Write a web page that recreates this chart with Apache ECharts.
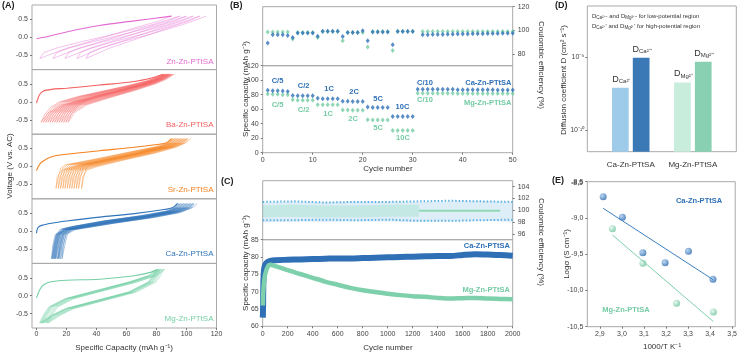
<!DOCTYPE html>
<html>
<head>
<meta charset="utf-8">
<script src="https://cdn.jsdelivr.net/npm/echarts@6/dist/echarts.min.js"></script>
<style>
  html, body { margin: 0; padding: 0; background: #fff; }
  #chart { width: 740px; height: 355px; }
</style>
</head>
<body>
<div id="chart"></div>
<script>
// ---------- (A) charge/discharge curves ----------
// first charge curve [capacity, voltage]
const znFirst = [[0,-0.04],[5,0.0],[20,0.15],[42,0.33],[64,0.45],[90,0.59]];
const baFirst = [[0,-0.03],[2,0.2],[4.4,0.3],[10,0.35],[20,0.38],[42,0.47],[64,0.56],[78,0.68],[84,0.77]];
const srFirst = [[0,-0.11],[1,-0.02],[3.3,0.12],[10,0.27],[20,0.34],[42,0.44],[64,0.53],[85,0.64],[88,0.7],[90,0.78]];
const caFirst = [[0,-0.06],[0.3,0.02],[1,0.1],[3.3,0.16],[10,0.22],[20,0.28],[42,0.39],[64,0.48],[85,0.6],[91,0.66],[94,0.77]];
const mgFirst = [[0,-0.06],[2,0.15],[4.4,0.29],[8.9,0.38],[20,0.43],[42,0.46],[64,0.55],[76,0.65],[80,0.72]];
// curve shapes [fraction between low and high capacity end, voltage]
const znChg = [[0,-0.59],[0.03,-0.42],[0.12,-0.3],[0.3,-0.12],[0.55,0.1],[0.8,0.35],[1,0.59]];
const znDis = [[0,-0.59],[0.2,-0.31],[0.45,-0.04],[0.7,0.24],[0.9,0.45],[1,0.59]];
const baChg = [[0,-0.57],[0.03,-0.35],[0.08,-0.15],[0.15,0.0],[0.3,0.15],[0.5,0.3],[0.7,0.45],[0.85,0.58],[0.95,0.7],[1,0.77]];
const baDis = [[0,-0.57],[0.06,-0.3],[0.18,-0.08],[0.4,0.12],[0.65,0.33],[0.85,0.52],[0.95,0.65],[1,0.77]];
const srChg = [[0,-0.61],[0.02,-0.3],[0.04,-0.05],[0.08,0.05],[0.2,0.12],[0.4,0.25],[0.65,0.42],[0.85,0.55],[0.95,0.66],[1,0.78]];
const srDis = [[0,-0.61],[0.01,-0.3],[0.05,-0.1],[0.15,0.0],[0.4,0.18],[0.7,0.38],[0.9,0.55],[0.97,0.65],[1,0.78]];
const caChg = [[0,-0.77],[0.02,-0.4],[0.04,-0.08],[0.07,0.05],[0.15,0.12],[0.4,0.28],[0.7,0.43],[0.9,0.56],[0.97,0.66],[1,0.77]];
const caDis = [[0,-0.77],[0.01,-0.4],[0.03,-0.1],[0.1,0.04],[0.4,0.22],[0.7,0.38],[0.9,0.52],[0.98,0.65],[1,0.77]];
const mgChg = [[0,-0.76],[0.03,-0.55],[0.08,-0.31],[0.22,-0.08],[0.49,0.15],[0.76,0.38],[0.93,0.56],[1,0.74]];
const mgDis = [[0,-0.76],[0.1,-0.55],[0.22,-0.36],[0.49,-0.13],[0.76,0.1],[0.93,0.38],[0.97,0.55],[1,0.74]];
// low / high capacity ends of each later cycle
const znLow = [2.2, 11, 19, 27, 33];
const znHigh = [95.6, 100, 104.4, 108.9, 113.3];
const baLow = [3, 4.5, 6, 7.5, 9, 10.5, 12, 13.5, 15, 16.5, 18, 19.5, 21];
const baHigh = [85, 85.5, 86, 86.5, 87, 87.5, 88, 88.5, 89, 89.5, 90, 91, 92];
const srLow = [13, 14.5, 16, 17.5, 19, 20.5, 22, 23.5, 25, 26.5, 28, 30];
const srHigh = [91, 92, 93, 94, 95, 96, 97, 98, 99, 100, 101, 103];
const caLow = [10, 10.5, 11, 11.5, 12, 12.5, 13, 14, 14.5, 15, 16, 17];
const caHigh = [95, 96, 97, 98, 99, 100, 101, 102, 103, 104, 105, 107];
const mgLow = [2, 2.5, 3, 3.5, 4, 4.5, 5.5, 6.5, 7, 8];
const mgHigh = [80, 80.5, 81, 81.5, 82, 82.5, 83, 84, 85, 85.6];
const aNames = ['Zn-Zn-PTtSA', 'Ba-Zn-PTtSA', 'Sr-Zn-PTtSA', 'Ca-Zn-PTtSA', 'Mg-Zn-PTtSA'];
const aTicksX = [0, 20, 40, 60, 80, 100, 120];
const aTicksY = [-0.5, 0, 0.5];

// ---------- (B) rate performance ----------
const bCaCap = [86,85.5,85.5,85,84.5, 79,78.5,78.5,78.5,78.5, 75,74.5,74.5,74.5,74.5, 71,71,70.5,70.5,70.5,
  63,62.5,62.5,62.5,62.5, 50,50,50,50,50,
  87.5,87.5,87.5,87.5,87.5,87.5,87.5,87.5,87,87,87,87,87,87,87,87,86.5,86.5,86.5,86.5];
const bMgCap = [81,80.5,80.5,80,80, 73,72.5,72.5,72.5,72.5, 66,66,66,66,66, 59,59,58.5,58.5,58.5,
  45.5,45,45,45,45, 30.5,30.5,30.5,30.5,30.5,
  82,82,82,82,82,82,82,82,81.5,81.5,81.5,81.5,81.5,81.5,81.5,81.5,81.5,81.5,81.5,81.5];
const bCaCE = [89.2,96.3,96.3,96.3,95.5, 93.8,97.8,97.8,97.8,97.8, 95,99.2,99.2,99.2,99.2, 94.7,98.2,98.2,98.2,99.7,
  91.1,98.5,98.5,98.5,98.5, 87.8,99,99,99,99,
  null,96.3,96.3,96.4,96.5,96.5,96.6,96.7,96.8,96.8,96.9,97,97,97.1,97.2,97.2,97.3,97.4,97.4,97.5];
const bMgCE = [98.6,98.6,98.6,98.6,98.6, 92.7,98.2,98.2,98.2,98.2, 93.8,98.9,98.9,98.9,98.9, 91.1,98.2,98.2,98.2,98.2,
  85.8,98.9,98.9,98.9,98.9, 82.8,99.2,99.2,99.2,99.2,
  null,99,99,99,99,99,99,99,99,99,99,99,99,99,99,99,99,99,99,99];
const bRates = ['C/5', 'C/2', '1C', '2C', '5C', '10C', 'C/10'];

// ---------- (C) long cycling ----------
const cCycles = [1,3,5,10,20,40,60,100,200,300,400,500,600,700,800,900,1000,1100,1200,1300,1400,1500,1600,1700,1800,1900,2000];
const cCaCap = [62.5,66,72,76,77.8,78.6,78.9,79.1,79.2,79.3,79.4,79.5,79.6,79.6,79.7,79.8,79.9,80.0,80.1,80.2,80.3,80.3,80.6,80.8,80.7,80.6,80.4];
const cMgCap = [66,68,70,72.5,75,77.2,77.8,77.4,76.2,75.1,74.0,72.9,72.0,71.1,70.4,69.9,69.4,69.0,68.7,68.5,68.2,68.0,68.1,68.2,68.0,67.9,67.8];
const cCeCycles = [0,250,500,750,1000,1250,1500,1750,2000];
const cCaCE = [99.6,99.8,99.7,99.8,99.8,99.7,99.8,99.9,99.7];
const cCaCEHi = [101.4,101.5,101.3,101.4,101.4,101.5,101.6,101.5,101.4];
const cCaCELo = [98.3,98.3,98.4,98.3,98.4,98.2,98.2,98.3,98.4];
const cMgCE = [99.8,99.9,99.8,99.8,99.9,99.9];
const cMgCELine = [[1250,99.9],[1900,99.9]];

// ---------- (D) diffusion coefficients ----------
const dGroups = ['Ca-Zn-PTtSA', 'Mg-Zn-PTtSA'];
const dLow = [3.8e-10, 4.5e-10];
const dHigh = [9.9e-10, 8.7e-10];

// ---------- (E) Arrhenius ----------
const eCaX = [2.915, 3.002, 3.095, 3.196, 3.302, 3.413];
const eCaY = [-8.707, -8.99, -9.48, -9.617, -9.46, -9.846];
const eMgX = [2.957, 3.095, 3.248, 3.415];
const eMgY = [-9.148, -9.626, -10.177, -10.297];
const eCaFit = [[2.915, -8.867], [3.413, -9.85]];
const eMgFit = [[2.957, -9.235], [3.415, -10.43]];
const eTicksX = [2.9, 3.0, 3.1, 3.2, 3.3, 3.4, 3.5];
const eTicksY = [-10.5, -10, -9.5, -9, -8.5];

// ---------- styling ----------
const FONT = 'Liberation Sans, Arial, sans-serif';
const BLUE = '#2f70b6';
const GREEN = '#74cca4';
const aColors = ['#e36ad2', '#f45f5f', '#f5821f', '#2f73ba', '#74cfa6'];
const BORDER = '#a9a9a9';
const tickLab = { fontFamily: FONT, fontSize: 7, color: '#444', showMinLabel: true, showMaxLabel: true };
const noLine = { show: false, onZero: false };

const chart = echarts.init(document.getElementById('chart'));

function loopData(first, chg, dis, lows, highs) {
  const out = [first[first.length - 1]];
  let prev = first[first.length - 1][0];
  for (let k = 0; k < lows.length; k++) {
    const lo = lows[k], hi = highs[k];
    for (let i = dis.length - 1; i >= 0; i--) out.push([lo + dis[i][0] * (prev - lo), dis[i][1]]);
    for (let i = 0; i < chg.length; i++) out.push([lo + chg[i][0] * (hi - lo), chg[i][1]]);
    prev = hi;
  }
  return out;
}

const aSets = [
  [znFirst, znChg, znDis, znLow, znHigh],
  [baFirst, baChg, baDis, baLow, baHigh],
  [srFirst, srChg, srDis, srLow, srHigh],
  [caFirst, caChg, caDis, caLow, caHigh],
  [mgFirst, mgChg, mgDis, mgLow, mgHigh],
];

const grids = [], xAxes = [], yAxes = [], series = [];
const aTop = 5, aH = 64.6;

aSets.forEach((s, i) => {
  grids.push({ left: 32, top: aTop + i * aH, width: 184.5, height: aH, show: true, borderColor: BORDER, borderWidth: 1 });
  const last = i === 4;
  xAxes.push({
    gridIndex: i, type: 'value', min: -3, max: 120,
    axisLine: noLine, splitLine: { show: false },
    axisTick: { show: last, length: 2, inside: false, customValues: aTicksX, lineStyle: { color: '#777' } },
    axisLabel: Object.assign({ show: last, margin: 3, customValues: aTicksX }, tickLab),
  });
  yAxes.push({
    gridIndex: i, type: 'value', min: -0.9, max: 0.9,
    axisLine: noLine, splitLine: { show: false },
    axisTick: { show: true, length: 2, customValues: aTicksY, lineStyle: { color: '#777' } },
    axisLabel: Object.assign({ margin: 4, customValues: aTicksY, formatter: v => v.toFixed(1) }, tickLab),
  });
  series.push({
    type: 'line', xAxisIndex: i, yAxisIndex: i, data: loopData(s[0], s[1], s[2], s[3], s[4]),
    showSymbol: false, silent: true, lineStyle: { width: 0.8, color: aColors[i], opacity: 0.5 },
  });
  series.push({
    type: 'line', xAxisIndex: i, yAxisIndex: i, data: s[0],
    showSymbol: false, smooth: 0.3, silent: true, lineStyle: { width: 1.1, color: aColors[i] },
  });
});

// B: grids 5 (CE) and 6 (capacity)
grids.push({ left: 262.7, top: 6.7, width: 250, height: 59, show: true, borderColor: BORDER, borderWidth: 1 });
grids.push({ left: 262.7, top: 65.7, width: 250, height: 87, show: true, borderColor: BORDER, borderWidth: 1 });
// C: grids 7 (CE) and 8 (capacity)
grids.push({ left: 262.7, top: 180.7, width: 250, height: 59, show: true, borderColor: BORDER, borderWidth: 1 });
grids.push({ left: 262.7, top: 239.7, width: 250, height: 86.6, show: true, borderColor: BORDER, borderWidth: 1 });
// D: grid 9, E: grid 10
grids.push({ left: 587.3, top: 6, width: 149, height: 145.7, show: true, borderColor: BORDER, borderWidth: 1 });
grids.push({ left: 587.3, top: 181.7, width: 149, height: 145, show: true, borderColor: BORDER, borderWidth: 1 });

const plainX = (gi, min, max, show, interval) => ({
  gridIndex: gi, type: 'value', min, max, interval,
  axisLine: noLine, splitLine: { show: false },
  axisTick: { show, length: 2, lineStyle: { color: '#777' } },
  axisLabel: Object.assign({ show, margin: 4, formatter: v => String(v) }, tickLab),
});
xAxes.push(plainX(5, 0, 50, false, 10));
xAxes.push(plainX(6, 0, 50, true, 10));
xAxes.push(plainX(7, 0, 2000, false, 200));
xAxes.push(plainX(8, 0, 2000, true, 200));

yAxes.push({
  gridIndex: 5, type: 'value', position: 'right', min: 70, max: 120,
  axisLine: noLine, splitLine: { show: false },
  axisTick: { show: true, length: 2, customValues: [80, 100, 120], lineStyle: { color: '#777' } },
  axisLabel: Object.assign({ margin: 5, customValues: [80, 100, 120] }, tickLab),
});
yAxes.push({
  gridIndex: 6, type: 'value', min: 0, max: 120, interval: 20,
  axisLine: noLine, splitLine: { show: false },
  axisTick: { show: true, length: 2, lineStyle: { color: '#777' } },
  axisLabel: Object.assign({ margin: 4 }, tickLab),
});
yAxes.push({
  gridIndex: 7, type: 'value', position: 'right', min: 95, max: 105,
  axisLine: noLine, splitLine: { show: false },
  axisTick: { show: true, length: 2, customValues: [96, 98, 100, 102, 104], lineStyle: { color: '#777' } },
  axisLabel: Object.assign({ margin: 5, customValues: [96, 98, 100, 102, 104] }, tickLab),
});
yAxes.push({
  gridIndex: 8, type: 'value', min: 60, max: 85, interval: 5,
  axisLine: noLine, splitLine: { show: false },
  axisTick: { show: true, length: 2, lineStyle: { color: '#777' } },
  axisLabel: Object.assign({ margin: 4 }, tickLab),
});

// D axes
xAxes.push({
  gridIndex: 9, type: 'value', min: 0.3, max: 2.7,
  axisLine: noLine, splitLine: { show: false }, axisTick: { show: false },
  axisLabel: { customValues: [1, 2], formatter: v => dGroups[Math.round(v) - 1], margin: 9, fontFamily: FONT, fontSize: 8, color: '#333' },
});
yAxes.push({
  gridIndex: 9, type: 'log', min: 5e-11, max: 5.1e-9,
  axisLine: noLine, splitLine: { show: false },
  axisTick: { show: true, length: 2, customValues: [1e-10, 1e-9], lineStyle: { color: '#777' } },
  minorTick: { show: false },
  axisLabel: Object.assign({ margin: 3, customValues: [1e-10, 1e-9], formatter: v => (v < 5e-10 ? '10⁻¹⁰' : '10⁻⁹') }, tickLab),
});
// E axes
xAxes.push({
  gridIndex: 10, type: 'value', min: 2.843, max: 3.514,
  axisLine: noLine, splitLine: { show: false },
  axisTick: { show: true, length: 2, customValues: eTicksX, lineStyle: { color: '#777' } },
  axisLabel: Object.assign({ margin: 4, customValues: eTicksX, formatter: v => v.toFixed(1).replace('.', ',') }, tickLab),
});
yAxes.push({
  gridIndex: 10, type: 'value', min: -10.5, max: -8.5,
  axisLine: noLine, splitLine: { show: false },
  axisTick: { show: true, length: 2, customValues: eTicksY, lineStyle: { color: '#777' } },
  axisLabel: Object.assign({ margin: 4, customValues: eTicksY, formatter: v => v.toFixed(1).replace('.', ',') }, tickLab),
});

// B series (axis index 5..6)
const idx = (arr) => arr.map((v, i) => [i + 1, v]);
const ptSym = { symbol: 'diamond', symbolSize: [4, 5], type: 'scatter', silent: true };
series.push(Object.assign({ xAxisIndex: 5, yAxisIndex: 5, data: idx(bMgCE), itemStyle: { color: GREEN } }, ptSym));
series.push(Object.assign({ xAxisIndex: 5, yAxisIndex: 5, data: idx(bCaCE), itemStyle: { color: BLUE } }, ptSym));
series.push(Object.assign({ xAxisIndex: 6, yAxisIndex: 6, data: idx(bMgCap), itemStyle: { color: GREEN } }, ptSym));
series.push(Object.assign({ xAxisIndex: 6, yAxisIndex: 6, data: idx(bCaCap), itemStyle: { color: BLUE } }, ptSym));

// C series (axis index 7..8)
const zip = (xs, ys) => xs.map((x, i) => [x, ys[i]]);
series.push({ type: 'line', xAxisIndex: 7, yAxisIndex: 7, data: zip(cCeCycles, cCaCE), showSymbol: false, silent: true,
  lineStyle: { width: 20, color: 'rgba(90,170,225,0.2)' } });
series.push({ type: 'line', xAxisIndex: 7, yAxisIndex: 7, data: zip(cCeCycles, cCaCEHi), showSymbol: false, silent: true,
  lineStyle: { width: 2, type: [1.5, 2], color: '#5fb0e3' } });
series.push({ type: 'line', xAxisIndex: 7, yAxisIndex: 7, data: zip(cCeCycles, cCaCELo), showSymbol: false, silent: true,
  lineStyle: { width: 2, type: [1.5, 2], color: '#5fb0e3' } });
series.push({ type: 'line', xAxisIndex: 7, yAxisIndex: 7, data: zip(cCeCycles.slice(0, cMgCE.length), cMgCE), showSymbol: false, silent: true,
  lineStyle: { width: 12, color: 'rgba(150,220,190,0.35)' } });
series.push({ type: 'line', xAxisIndex: 7, yAxisIndex: 7, data: cMgCELine, showSymbol: false, silent: true,
  lineStyle: { width: 2, color: '#8fd8b6' } });
series.push({ type: 'line', xAxisIndex: 8, yAxisIndex: 8, data: zip(cCycles, cCaCap), showSymbol: false, smooth: 0.3, silent: true,
  lineStyle: { width: 6, color: '#2f6fb5' } });
series.push({ type: 'line', xAxisIndex: 8, yAxisIndex: 8, data: zip(cCycles, cMgCap), showSymbol: false, smooth: 0.3, silent: true,
  lineStyle: { width: 4.5, color: '#7dd0ab' } });

// D bars (custom, axis index 9)
const dColors = [['#9ecbea', '#3b78b6'], ['#c8eddc', '#88d0b1']];
const dSubs = ['Ca²⁺', 'Mg²⁺'];
const dData = [];
dGroups.forEach((g, i) => { dData.push([i + 1, dLow[i], 0, i]); dData.push([i + 1, dHigh[i], 1, i]); });
series.push({
  type: 'custom', xAxisIndex: 9, yAxisIndex: 9, data: dData, silent: true,
  renderItem: (params, api) => {
    const x = api.value(0), v = api.value(1), k = api.value(2), g = api.value(3);
    const p = api.coord([x, v]);
    const cs = params.coordSys;
    const bottom = cs.y + cs.height;
    const w = 16.7, off = k === 0 ? -10.4 : 10.4;
    const cx = p[0] + off;
    return {
      type: 'group',
      children: [
        { type: 'rect', shape: { x: cx - w / 2, y: p[1], width: w, height: bottom - p[1] }, style: { fill: dColors[g][k] } },
        { type: 'text', x: cx + 1, y: p[1] - 3, style: {
            text: '{d|D}{s|' + dSubs[g] + (k === 1 ? '\'' : '') + '}',
            align: 'center', verticalAlign: 'bottom',
            rich: { d: { fontFamily: FONT, fontSize: 9, fill: '#333' }, s: { fontFamily: FONT, fontSize: 6, fill: '#333', padding: [5, 0, 0, 0] } },
          } },
      ],
    };
  },
});

// E series (axis index 10)
const ball = (light, dark) => new echarts.graphic.RadialGradient(0.35, 0.35, 0.75, [{ offset: 0, color: light }, { offset: 1, color: dark }]);
series.push({ type: 'line', xAxisIndex: 10, yAxisIndex: 10, data: eCaFit, showSymbol: false, silent: true, lineStyle: { width: 1, color: '#3d7fc3' } });
series.push({ type: 'line', xAxisIndex: 10, yAxisIndex: 10, data: eMgFit, showSymbol: false, silent: true, lineStyle: { width: 1, color: '#7fd0ad' } });
series.push({ type: 'scatter', xAxisIndex: 10, yAxisIndex: 10, data: zip(eCaX, eCaY), symbolSize: 7, silent: true,
  itemStyle: { color: ball('#a9cdf0', '#2160a8') } });
series.push({ type: 'scatter', xAxisIndex: 10, yAxisIndex: 10, data: zip(eMgX, eMgY), symbolSize: 7, silent: true,
  itemStyle: { color: ball('#e2f6ec', '#62be97') } });

// ---------- texts ----------
const txt = (x, y, text, o) => ({
  type: 'text', x, y, rotation: (o && o.rot) || 0, silent: true,
  style: Object.assign({ text, fontFamily: FONT, fontSize: 8, fill: '#333', align: 'center', verticalAlign: 'middle' }, (o && o.style) || {}),
});
const graphics = [];
['(A)', '(B)', '(C)', '(D)', '(E)'].forEach((t, i) => {
  const pos = [[2, 6], [230, 6], [221, 182], [555, 6], [552, 181]][i];
  graphics.push(txt(pos[0], pos[1], t, { style: { align: 'left', fontWeight: 'bold', fontSize: 9, fill: '#222' } }));
});
const aLabY = [61.7, 125, 190, 253.5, 318.3];
aNames.forEach((n, i) => graphics.push(txt(213.5, aLabY[i], n, { style: { align: 'right', fill: aColors[i], fontSize: 8 } })));
graphics.push(txt(10, 166, 'Voltage (V vs. AC)', { rot: Math.PI / 2 }));
graphics.push(txt(124, 348, 'Specific Capacity (mAh g⁻¹)'));

// B labels
const bBluePos = [[277.5, 80.7], [303.7, 86], [329, 89.3], [354, 91.5], [378, 99], [402.5, 107.3], [425, 82.7]];
const bGreenPos = [[277.5, 105.3], [303.7, 110], [328, 114], [353, 119], [378, 127.7], [403, 138.3], [425, 100]];
bRates.forEach((r, i) => {
  graphics.push(txt(bBluePos[i][0], bBluePos[i][1], r, { style: { fill: BLUE, fontWeight: 'bold', fontSize: 7.5 } }));
  graphics.push(txt(bGreenPos[i][0], bGreenPos[i][1], r, { style: { fill: GREEN, fontWeight: 'bold', fontSize: 7.5 } }));
});
graphics.push(txt(511.5, 83.3, 'Ca-Zn-PTtSA', { style: { align: 'right', fill: BLUE, fontWeight: 'bold', fontSize: 7.5 } }));
graphics.push(txt(511.5, 102.7, 'Mg-Zn-PTtSA', { style: { align: 'right', fill: GREEN, fontWeight: 'bold', fontSize: 7.5 } }));
graphics.push(txt(246, 89, 'Specific capacity (mAh g⁻¹)', { rot: Math.PI / 2 }));
graphics.push(txt(541, 65, 'Coulombic efficiency (%)', { rot: -Math.PI / 2 }));
graphics.push(txt(388, 169, 'Cycle number'));

// C labels
graphics.push(txt(510, 246, 'Ca-Zn-PTtSA', { style: { align: 'right', fill: BLUE, fontWeight: 'bold', fontSize: 7.5 } }));
graphics.push(txt(510, 290, 'Mg-Zn-PTtSA', { style: { align: 'right', fill: GREEN, fontWeight: 'bold', fontSize: 7.5 } }));
graphics.push(txt(246, 263, 'Specific capacity (mAh g⁻¹)', { rot: Math.PI / 2 }));
graphics.push(txt(541, 242, 'Coulombic efficiency (%)', { rot: -Math.PI / 2 }));
graphics.push(txt(388, 348, 'Cycle number'));

// D labels
const legRich = { a: { fontFamily: FONT, fontSize: 6, fill: '#333' }, s: { fontFamily: FONT, fontSize: 4.5, fill: '#333', padding: [3, 0, 0, 0] } };
graphics.push(txt(592, 16, '{a|D}{s|Ca²⁺}{a|- and D}{s|Mg²⁺}{a|- for low-potential region}', { style: { align: 'left', rich: legRich } }));
graphics.push(txt(592, 26, '{a|D}{s|Ca²⁺}{a|\' and D}{s|Mg²⁺}{a|\' for high-potential region}', { style: { align: 'left', rich: legRich } }));
graphics.push(txt(564, 80, 'Diffusion coefficient D (cm² s⁻¹)', { rot: Math.PI / 2 }));

// E labels
graphics.push(txt(699, 200.7, 'Ca-Zn-PTtSA', { style: { fill: BLUE, fontWeight: 'bold', fontSize: 7.5 } }));
graphics.push(txt(626, 310, 'Mg-Zn-PTtSA', { style: { fill: GREEN, fontWeight: 'bold', fontSize: 7.5 } }));
graphics.push(txt(567, 254, 'Logσ (S cm⁻¹)', { rot: Math.PI / 2 }));
graphics.push(txt(662, 347, '1000/T K⁻¹'));
// top y tick label of (E), which the axis drops at the grid edge
graphics.push(txt(583, 183, '-8,5', { style: { align: 'right', fontSize: 7, fill: '#444' } }));

chart.setOption({
  animation: false,
  backgroundColor: '#fff',
  grid: grids,
  xAxis: xAxes,
  yAxis: yAxes,
  series: series,
  graphic: graphics,
});
</script>
</body>
</html>
